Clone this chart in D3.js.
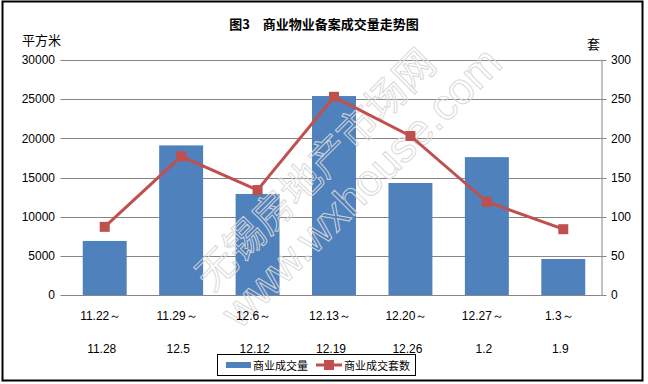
<!DOCTYPE html>
<html><head><meta charset="utf-8">
<script src="https://cdn.jsdelivr.net/npm/d3@7"></script>
<style>body{margin:0;background:#fff}svg{display:block}</style>
</head><body>
<script>
const categoriesTop = ["11.22～","11.29～","12.6～","12.13～","12.20～","12.27～","1.3～"];
const categoriesBottom = ["11.28","12.5","12.12","12.19","12.26","1.2","1.9"];
const areaValues = [6900, 19100, 12900, 25400, 14300, 17600, 4600];
const unitValues = [87, 177, 134, 253, 203, 119, 84];
const leftTicks = [0,5000,10000,15000,20000,25000,30000];
const rightTicks = [0,50,100,150,200,250,300];
const seriesNames = ["商业成交量","商业成交套数"];

(function(){
const W=648,H=384;
const svg=d3.select("body").append("svg").attr("width",W).attr("height",H);
const font="'Liberation Sans', Arial, sans-serif";
const cjk="'Noto Sans CJK SC', sans-serif";

svg.append("rect").attr("x",2.5).attr("y",1.5).attr("width",640).attr("height",379)
  .attr("fill","#fff").attr("stroke","#000").attr("stroke-width",2);

const pl=66.5,pr=601.5,pt=60,pb=295;
const x=d3.scaleBand().domain(d3.range(7)).range([pl,pr]).paddingInner(0.425).paddingOuter(0.2125);
const yL=d3.scaleLinear().domain([0,30000]).range([pb,pt]);
const yR=d3.scaleLinear().domain([0,300]).range([pb,pt]);

svg.append("g").selectAll("line").data(leftTicks).join("line")
  .attr("x1",pl-6).attr("x2",pr).attr("y1",d=>Math.round(yL(d))+0.5).attr("y2",d=>Math.round(yL(d))+0.5)
  .attr("stroke","#868686").attr("stroke-width",1);
svg.append("line").attr("x1",pr+0.5).attr("x2",pr+0.5).attr("y1",pt).attr("y2",pb+0.5).attr("stroke","#868686");
svg.append("g").selectAll("line").data(rightTicks).join("line")
  .attr("x1",pr).attr("x2",pr+5).attr("y1",d=>Math.round(yR(d))+0.5).attr("y2",d=>Math.round(yR(d))+0.5)
  .attr("stroke","#868686");

svg.append("g").selectAll("text").data(leftTicks).join("text")
  .attr("x",55).attr("y",d=>yL(d)).attr("dy","0.35em").attr("text-anchor","end")
  .attr("font-family",font).attr("font-size",12).attr("fill","#000").text(d=>d);
svg.append("g").selectAll("text").data(rightTicks).join("text")
  .attr("x",611).attr("y",d=>yR(d)).attr("dy","0.35em").attr("text-anchor","start")
  .attr("font-family",font).attr("font-size",12).attr("fill","#000").text(d=>d);

svg.append("g").selectAll("rect").data(areaValues).join("rect")
  .attr("x",(d,i)=>x(i)).attr("width",x.bandwidth())
  .attr("y",d=>yL(d)).attr("height",d=>pb-yL(d)).attr("fill","#4F81BD");

const wm=svg.append("g").attr("transform","translate(338,178) rotate(-45)")
  .attr("fill","none").attr("stroke","#d9d9d9").attr("stroke-width",1).attr("opacity",0.95);
wm.append("text").attr("x",-10).attr("y",-8).attr("text-anchor","middle").attr("font-family",cjk)
  .attr("font-size",40).text("无锡房地产市场网");
wm.append("text").attr("x",10).attr("y",38).attr("text-anchor","middle").attr("font-family",font)
  .attr("font-size",44).text("www.wxhouse.com");

const cx=i=>x(i)+x.bandwidth()/2;
svg.append("path").datum(unitValues)
  .attr("d",d3.line().x((d,i)=>cx(i)).y(d=>yR(d)))
  .attr("fill","none").attr("stroke","#C0504D").attr("stroke-width",3);
svg.append("g").selectAll("rect").data(unitValues).join("rect")
  .attr("x",(d,i)=>cx(i)-5).attr("y",d=>yR(d)-5).attr("width",10).attr("height",10)
  .attr("fill","#C0504D");

svg.append("g").selectAll("text").data(categoriesTop).join("text")
  .attr("x",(d,i)=>cx(i)-4).attr("y",320).attr("text-anchor","middle")
  .attr("font-family",font).attr("font-size",12).text(d=>d);
svg.append("g").selectAll("text").data(categoriesBottom).join("text")
  .attr("x",(d,i)=>cx(i)-3).attr("y",353).attr("text-anchor","middle")
  .attr("font-family",font).attr("font-size",12).text(d=>d);

svg.append("text").attr("x",324).attr("y",29).attr("text-anchor","middle")
  .attr("font-family",cjk).attr("font-weight","bold").attr("font-size",13).text("图3　商业物业备案成交量走势图");
svg.append("text").attr("x",22).attr("y",45).attr("font-family",cjk).attr("font-size",13).text("平方米");
svg.append("text").attr("x",587).attr("y",49).attr("font-family",cjk).attr("font-size",13).text("套");

const lg=svg.append("g");
lg.append("rect").attr("x",217.5).attr("y",354.5).attr("width",198).attr("height",21).attr("fill","#fff").attr("stroke","#000");
lg.append("rect").attr("x",226).attr("y",362).attr("width",25).attr("height",6).attr("fill","#4F81BD");
lg.append("text").attr("x",253).attr("y",369.5).attr("font-family",cjk).attr("font-size",11).text(seriesNames[0]);
lg.append("line").attr("x1",316).attr("x2",342).attr("y1",365).attr("y2",365).attr("stroke","#C0504D").attr("stroke-width",3);
lg.append("rect").attr("x",324).attr("y",360).attr("width",10).attr("height",10).attr("fill","#C0504D");
lg.append("text").attr("x",344).attr("y",369.5).attr("font-family",cjk).attr("font-size",11).text(seriesNames[1]);
})();
</script>
</body></html>
